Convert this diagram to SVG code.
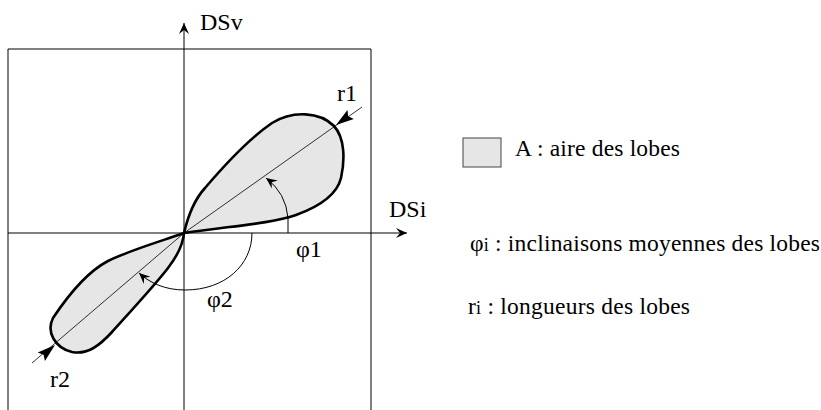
<svg xmlns="http://www.w3.org/2000/svg" width="821" height="410" viewBox="0 0 821 410">
<style>
.t{font-family:"Liberation Serif","Times New Roman",serif;fill:#000}
.lab{font-size:24px}
.leg{font-size:23.5px}
.thin{fill:none;stroke:#000;stroke-width:1}
.diag{fill:none;stroke:#000;stroke-width:0.8}
.lobe{fill:#e6e6e6;stroke:#000;stroke-width:2.6;stroke-linejoin:round}
</style>
<defs>
<marker id="ax" viewBox="-13 -7 15 14" refX="0" refY="0" markerWidth="15" markerHeight="14" markerUnits="userSpaceOnUse" orient="auto">
<path d="M0,0 L-11,-5 L-7,0 L-11,5 Z" fill="#000"/>
</marker>
<marker id="big" viewBox="-20 -7 22 14" refX="0" refY="0" markerWidth="22" markerHeight="14" markerUnits="userSpaceOnUse" orient="auto">
<path d="M0,0 L-18,-5.5 L-15,0 L-18,5.5 Z" fill="#000"/>
</marker>
</defs>
<rect width="821" height="410" fill="#fff"/>
<g id="frame"><path class="thin" d="M8,410 L8,49 L371,49 L371,410"/></g>
<g id="lobe1"><path class="lobe" d="M184,233 C188,216 194,200 205,188 C222,168 250,138 272,123 C293,110 320,112 334,126 C345,138 345,160 341,178 C337,195 318,207 296,215 C270,224 230,226 184,233 Z"/></g>
<g id="lobe2"><path class="lobe" d="M184,233 C165,240 130,250 108,261 C85,273 65,300 53,318 C46,332 55,348 72,352 C88,355 100,345 112,332 C130,312 155,285 168,268 C178,255 183,245 184,233 Z"/></g>
<g id="connectors">
<line class="diag" x1="184" y1="233" x2="362" y2="107"/>
<line class="diag" x1="184" y1="233" x2="32" y2="363"/>
<line class="thin" x1="184" y1="410" x2="184" y2="23" marker-end="url(#ax)"/>
<line class="thin" x1="8" y1="233" x2="407" y2="233" marker-end="url(#ax)"/>
<path class="thin" d="M288,233 L288,218 Q286,193 266,178" marker-end="url(#ax)"/>
<path class="thin" d="M252,233 C252,265 225,290 185,290 C165,290 150,283 139,273" marker-end="url(#ax)"/>
<path d="M350,115 L336,125" fill="none" stroke="none" marker-end="url(#big)"/>
<path d="M41,357 L55,345" fill="none" stroke="none" marker-end="url(#big)"/>
</g>
<g id="labels">
<text class="t lab" x="200" y="30">DSv</text>
<text class="t lab" x="389" y="217">DSi</text>
<text class="t lab" x="337" y="101">r1</text>
<text class="t lab" x="50" y="387">r2</text>
<text class="t lab" x="296" y="257">φ1</text>
<text class="t lab" x="207" y="307">φ2</text>
</g>
<g id="legend">
<rect x="463" y="138" width="38" height="29" fill="#e6e6e6" stroke="#444" stroke-width="1"/>
<text class="t leg" x="515" y="156" textLength="165" lengthAdjust="spacing">A : aire des lobes</text>
<text class="t leg" x="470" y="251" textLength="350" lengthAdjust="spacing">φ<tspan font-size="18">i</tspan> : inclinaisons moyennes des lobes</text>
<text class="t leg" x="468" y="314" textLength="222" lengthAdjust="spacing">r<tspan font-size="18">i</tspan> : longueurs des lobes</text>
</g>
</svg>
